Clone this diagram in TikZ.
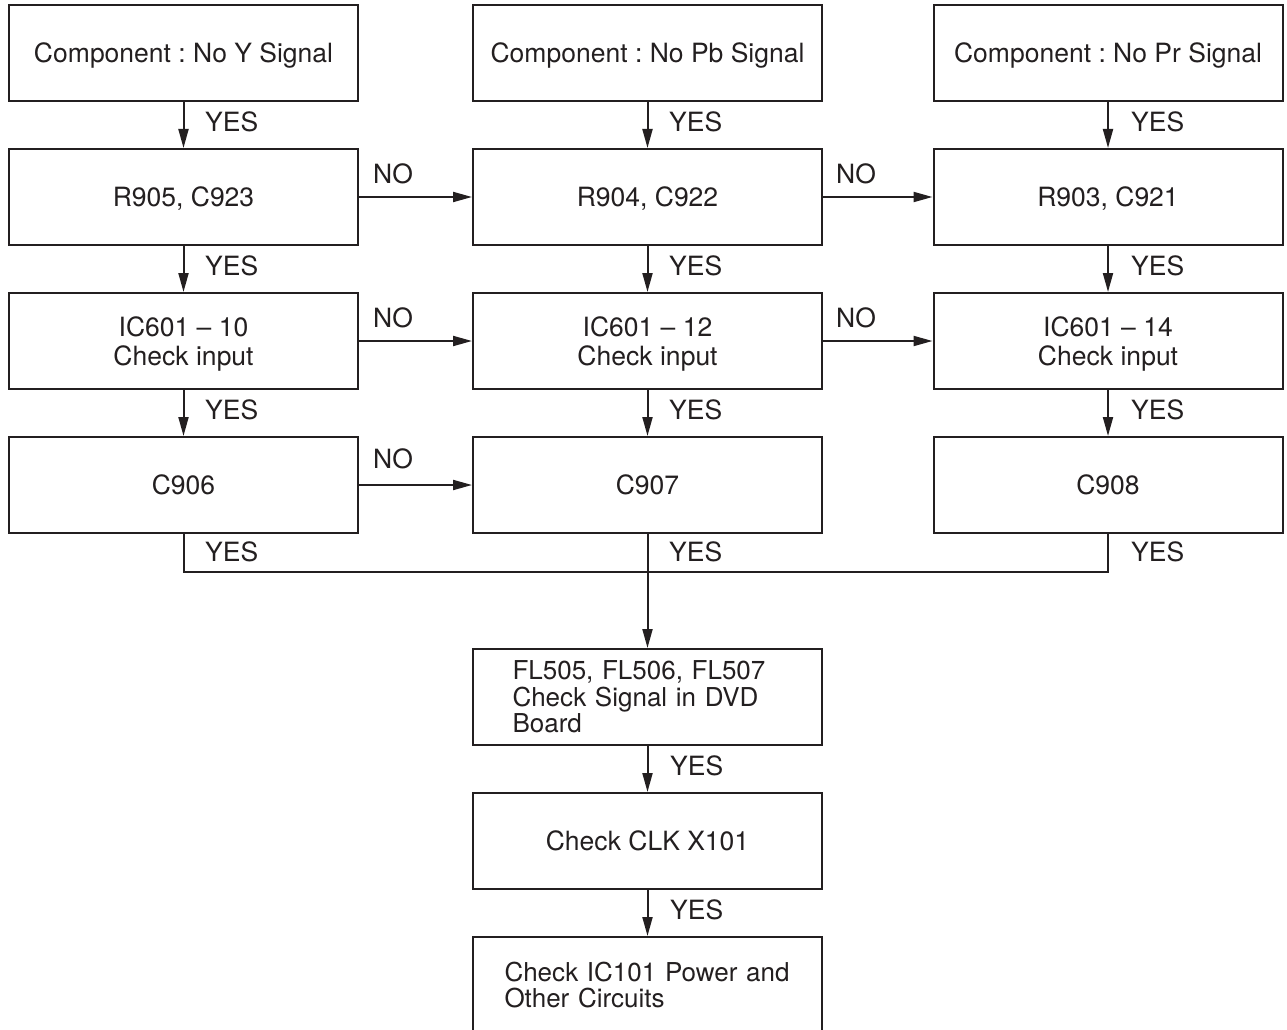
\documentclass[tikz,border=0pt]{standalone}
\usepackage{fontspec}
\setmainfont{TeX Gyre Heros}
\frenchspacing
\usetikzlibrary{arrows.meta}
\definecolor{ink}{HTML}{231F20}
\begin{document}
\frenchspacing
\begin{tikzpicture}[x=1pt,y=-1pt,
  every node/.style={text=ink},
  box/.style={draw=ink, line width=2pt, minimum width=349pt, minimum height=96pt, inner sep=0pt, text depth=0pt, align=center, font=\fontsize{26.5}{29}\selectfont},
  lbox/.style={draw=ink, line width=2pt, minimum width=349pt, minimum height=96pt, inner sep=0pt, align=left, font=\fontsize{26}{26.5}\selectfont},
  lbl/.style={anchor=west, inner sep=0pt, font=\fontsize{26.5}{29}\selectfont},
  arr/.style={draw=ink, line width=2pt, -{Triangle[length=19pt,width=10pt]}},
  ln/.style={draw=ink, line width=2pt}]
\useasboundingbox (0,0) rectangle (1287,1030);
% row 1
\node[box] (a1) at (183.5,53) {Component : No Y Signal};
\node[box] (a2) at (647.5,53) {Component : No Pb Signal};
\node[box] (a3) at (1108,53) {Component : No Pr Signal};
% row 2
\node[box] (b1) at (183.5,197) {R905, C923};
\node[box] (b2) at (647.5,197) {R904, C922};
\node[box] (b3) at (1108,197) {R903, C921};
% row 3
\node[box] (c1) at (183.5,341) {IC601 -- 10\\Check input};
\node[box] (c2) at (647.5,341) {IC601 -- 12\\Check input};
\node[box] (c3) at (1108,341) {IC601 -- 14\\Check input};
% row 4
\node[box] (d1) at (183.5,485) {C906};
\node[box] (d2) at (647.5,485) {C907};
\node[box] (d3) at (1108,485) {C908};
% bottom
\node[lbox, text width=270pt] (f) at (647.5,697) {FL505, FL506, FL507\\Check Signal in DVD\\Board};
\node[box] (g) at (647.5,841) {Check CLK X101};
\node[lbox, text width=286pt] (h) at (647.5,985) {Check IC101 Power and\\Other Circuits};
% vertical arrows
\foreach \u/\v in {a1/b1,a2/b2,a3/b3,b1/c1,b2/c2,b3/c3,c1/d1,c2/d2,c3/d3,f/g,g/h}
  \draw[arr] (\u.south) -- (\v.north);
% horizontal NO arrows
\draw[arr] (b1.east) -- (b2.west);
\draw[arr] (b2.east) -- (b3.west);
\draw[arr] (c1.east) -- (c2.west);
\draw[arr] (c2.east) -- (c3.west);
\draw[arr] (d1.east) -- (d2.west);
% join
\coordinate (j) at (647.5,572);
\draw[ln] (d1.south) |- (j) -| (d3.south);
\draw[arr] (d2.south) -- (f.north);
% YES labels
\node[lbl] (ya1) at (205,122) {YES};
\node[lbl] (ya2) at (669,122) {YES};
\node[lbl] (ya3) at (1131,122) {YES};
\node[lbl] (yb1) at (205,266) {YES};
\node[lbl] (yb2) at (669,266) {YES};
\node[lbl] (yb3) at (1131,266) {YES};
\node[lbl] (yc1) at (205,410) {YES};
\node[lbl] (yc2) at (669,410) {YES};
\node[lbl] (yc3) at (1131,410) {YES};
\node[lbl] (yd1) at (205,552) {YES};
\node[lbl] (yd2) at (669,552) {YES};
\node[lbl] (yd3) at (1131,552) {YES};
\node[lbl] (yf) at (670,766) {YES};
\node[lbl] (yg) at (670,910) {YES};
% NO labels
\node[lbl] (nb1) at (373,174) {NO};
\node[lbl] (nb2) at (836,174) {NO};
\node[lbl] (nc1) at (373,318) {NO};
\node[lbl] (nc2) at (836,318) {NO};
\node[lbl] (nd1) at (373,459) {NO};
\end{tikzpicture}
\end{document}
